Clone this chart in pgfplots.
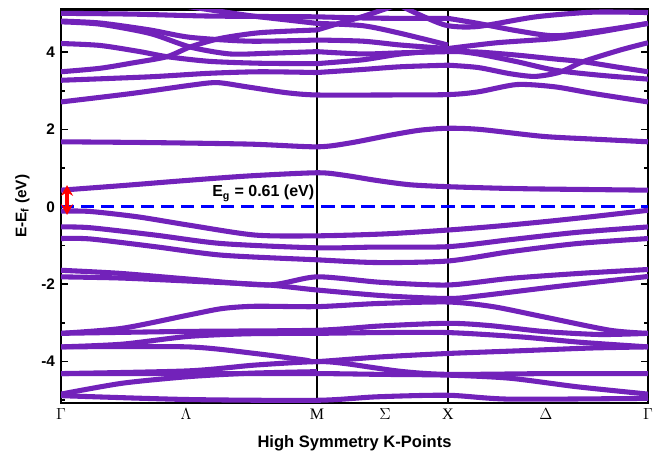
\documentclass[border=0pt]{standalone}
\usepackage{pgfplots}
\pgfplotsset{compat=1.18}
\usepackage{fontspec}
\setmainfont{Liberation Sans}
\newfontfamily\serifgr{Liberation Serif}
\usetikzlibrary{calc,arrows.meta}
\definecolor{bandc}{RGB}{114,34,186}
\begin{document}
\begin{tikzpicture}
\begin{axis}[
  scale only axis, width=440pt, height=295pt,
  xmin=61, xmax=648, ymin=-5.07, ymax=5.1,
  axis line style={line width=1.9pt},
  xtick={61,186,317,385,448,546,648},
  xticklabels={$\Gamma$,$\Lambda$,M,$\Sigma$,X,$\Delta$,$\Gamma$},
  xticklabel style={font=\serifgr\fontsize{12}{12}\selectfont, yshift=-1pt},
  xtick style={draw=none},
  ytick={-4,-2,0,2,4}, minor ytick={-5,-3,-1,1,3,5},
  yticklabel style={font=\bfseries\fontsize{11.5}{12}\selectfont, xshift=-1pt},
  /pgf/number format/assume math mode=true,
  tick align=inside, major tick length=5pt, minor tick length=3pt,
  every tick/.style={black, line width=1.3pt},
  xlabel={\bfseries High Symmetry K-Points},
  ylabel={\bfseries E-E\textsubscript{f} (eV)},
  xlabel style={font=\fontsize{12.4}{13}\selectfont, yshift=-5pt},
  ylabel style={font=\fontsize{11.5}{12}\selectfont, yshift=2pt},
  clip=true,
  band/.style={bandc, line width=3.8pt, smooth, tension=0.45},
]
% high symmetry lines
\addplot[black, line width=1.8pt] coordinates {(317,-5.07) (317,5.1)};
\addplot[black, line width=1.8pt] coordinates {(448,-5.07) (448,5.1)};
% ---------- conduction bands ----------
\addplot[band] coordinates {(61,0.43) (123,0.55) (186,0.68) (250,0.80) (317,0.88) (343,0.82) (377,0.68) (410,0.57) (448,0.52) (500,0.48) (543,0.46) (648,0.43)};
\addplot[band] coordinates {(61,1.68) (150,1.66) (250,1.62) (317,1.55) (350,1.65) (390,1.85) (420,1.98) (448,2.03) (480,2.0) (543,1.82) (593,1.75) (648,1.68)};
\addplot[band] coordinates {(61,2.71) (132,2.93) (190,3.14) (217,3.21) (247,3.10) (286,2.95) (317,2.89) (385,2.89) (448,2.90) (478,2.97) (517,3.16) (555,3.10) (593,2.93) (648,2.71)};
% upper, left half (Gamma -> M)
\addplot[band] coordinates {(61,3.27) (150,3.36) (209,3.45) (260,3.49) (317,3.47)};
\addplot[band] coordinates {(61,3.49) (100,3.58) (133,3.72) (167,3.88) (190,4.13) (220,4.35) (260,4.50) (317,4.57)};
\addplot[band] coordinates {(61,4.22) (100,4.17) (140,4.01) (167,3.88) (209,3.76) (260,3.71) (317,3.70)};
\addplot[band] coordinates {(61,4.78) (100,4.72) (150,4.48) (190,4.13) (230,3.95) (270,3.97) (317,4.01)};
\addplot[band] coordinates {(61,4.80) (100,4.75) (150,4.57) (190,4.38) (250,4.28) (317,4.31)};
\addplot[band] coordinates {(61,5.0) (132,4.98) (209,4.93) (317,4.91)};
\addplot[band] coordinates {(182,5.2) (247,4.95) (290,4.82) (317,4.74)};
% upper, M -> X
\addplot[band] coordinates {(317,4.91) (363,4.88) (401,4.87) (448,4.87)};
\addplot[band] coordinates {(317,4.74) (363,4.68) (401,4.48) (448,4.18)};
\addplot[band] coordinates {(317,4.57) (340,4.75) (363,4.92) (395,5.2)};
\addplot[band] coordinates {(317,4.31) (363,4.28) (401,4.18) (448,4.09)};
\addplot[band] coordinates {(317,4.01) (363,3.95) (401,3.98) (448,4.01)};
\addplot[band] coordinates {(317,3.70) (363,3.80) (401,3.95) (448,4.05)};
\addplot[band] coordinates {(317,3.47) (363,3.55) (401,3.62) (448,3.66)};
% upper, X -> Gamma
\addplot[band] coordinates {(448,4.87) (478,4.74) (517,4.55) (555,4.42) (600,4.55) (648,4.74)};
\addplot[band] coordinates {(400,5.2) (425,4.90) (448,4.68) (478,4.66) (536,4.91) (593,5.03) (648,5.02)};
\addplot[band] coordinates {(448,4.09) (497,4.24) (555,4.35) (600,4.52) (648,4.74)};
\addplot[band] coordinates {(448,4.05) (478,3.95) (517,3.75) (555,3.53) (600,3.40) (648,3.30)};
\addplot[band] coordinates {(448,4.01) (478,4.0) (517,3.92) (555,3.82) (583,3.75) (620,3.60) (648,3.49)};
\addplot[band] coordinates {(448,3.66) (478,3.60) (510,3.44) (535,3.37) (560,3.48) (583,3.75) (620,4.05) (648,4.24)};
% ---------- valence bands ----------
\addplot[band] coordinates {(61,-0.11) (90,-0.12) (138,-0.26) (188,-0.47) (255,-0.73) (317,-0.75) (385,-0.70) (448,-0.60) (497,-0.50) (546,-0.38) (597,-0.24) (648,-0.09)};
\addplot[band] coordinates {(61,-0.52) (90,-0.54) (155,-0.73) (222,-0.95) (317,-1.06) (377,-1.04) (448,-1.03) (510,-0.85) (577,-0.66) (648,-0.52)};
\addplot[band] coordinates {(61,-0.82) (90,-0.83) (155,-1.03) (222,-1.25) (317,-1.37) (377,-1.44) (448,-1.40) (510,-1.16) (577,-0.95) (648,-0.82)};
\addplot[band] coordinates {(61,-1.64) (120,-1.72) (190,-1.87) (268,-2.02) (317,-1.81) (380,-1.95) (448,-2.02) (510,-1.85) (580,-1.72) (648,-1.62)};
\addplot[band] coordinates {(61,-1.81) (120,-1.84) (190,-1.92) (268,-2.02) (317,-2.15) (385,-2.30) (448,-2.37) (480,-2.30) (560,-2.05) (648,-1.80)};
\addplot[band] coordinates {(61,-3.27) (122,-3.14) (188,-2.80) (222,-2.63) (255,-2.57) (317,-2.58) (377,-2.50) (448,-2.46) (493,-2.58) (543,-2.84) (610,-3.19) (648,-3.27)};
\addplot[band] coordinates {(61,-3.27) (186,-3.22) (317,-3.19) (380,-3.08) (448,-3.01) (490,-3.07) (543,-3.22) (600,-3.30) (648,-3.27)};
\addplot[band] coordinates {(61,-3.62) (122,-3.55) (188,-3.35) (250,-3.28) (317,-3.27) (380,-3.25) (448,-3.25) (520,-3.36) (580,-3.50) (648,-3.62)};
\addplot[band] coordinates {(61,-3.62) (188,-3.62) (255,-3.79) (305,-3.96) (317,-4.0) (380,-3.88) (448,-3.79) (520,-3.72) (590,-3.65) (648,-3.62)};
\addplot[band] coordinates {(61,-4.31) (188,-4.24) (255,-4.09) (317,-4.0) (345,-4.05) (400,-4.25) (448,-4.33) (550,-4.31) (648,-4.31)};
\addplot[band] coordinates {(61,-4.31) (188,-4.31) (317,-4.31) (380,-4.33) (448,-4.35) (510,-4.43) (577,-4.65) (648,-4.84)};
\addplot[band] coordinates {(61,-4.84) (122,-4.56) (188,-4.39) (250,-4.30) (317,-4.26)};
\addplot[band] coordinates {(61,-4.88) (188,-4.98) (317,-5.0) (377,-4.91) (448,-4.87) (510,-4.97) (648,-4.95)};
% Fermi level
\addplot[blue, line width=2.1pt, dash pattern=on 10pt off 5pt] coordinates {(61,0) (648,0)};
% gap arrow
\addplot[red, line width=2.4pt, <->, >={Stealth[length=8pt,width=9pt]}] coordinates {(67,-0.21) (67,0.56)};
\node[anchor=base west, font=\bfseries\fontsize{12}{12}\selectfont, inner sep=0pt] at (axis cs:212,0.26) {E\textsubscript{g} = 0.61 (eV)};
\end{axis}
\pgfresetboundingbox
\path[use as bounding box] ($(current axis.south west)+(-45.75pt,-39.75pt)$) rectangle ($(current axis.north east)+(4.5pt,7.1pt)$);
\end{tikzpicture}
\end{document}
